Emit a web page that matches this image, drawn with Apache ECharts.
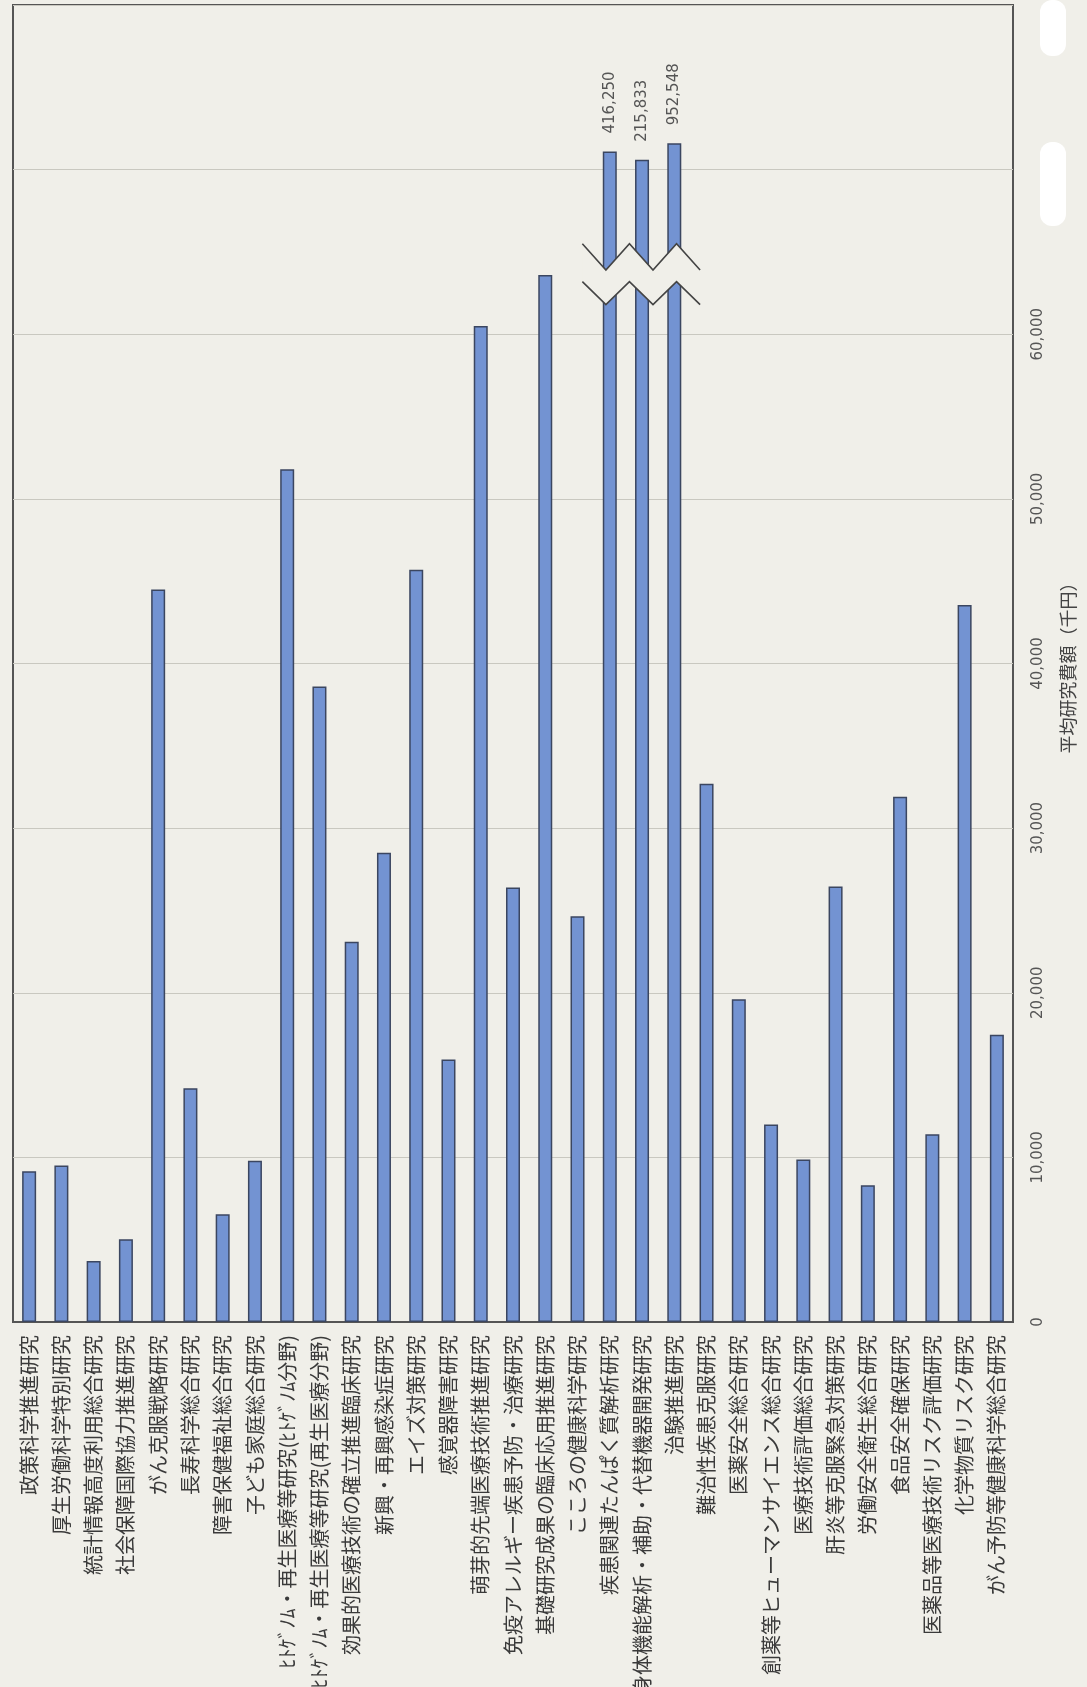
<!DOCTYPE html>
<html>
<head>
<meta charset="utf-8">
<script src="https://cdn.jsdelivr.net/npm/echarts@6/dist/echarts.min.js"></script>
<style>
  html, body { margin: 0; padding: 0; background: #f0efe9; }
  #chart { width: 1087px; height: 1687px; }
</style>
</head>
<body>
<div id="chart"></div>
<script>
// 研究事業名
var projects = [
  '政策科学推進研究', '厚生労働科学特別研究', '統計情報高度利用総合研究', '社会保障国際協力推進研究',
  'がん克服戦略研究', '長寿科学総合研究', '障害保健福祉総合研究', '子ども家庭総合研究',
  'ﾋﾄｹﾞﾉﾑ・再生医療等研究(ﾋﾄｹﾞﾉﾑ分野)', 'ﾋﾄｹﾞﾉﾑ・再生医療等研究(再生医療分野)',
  '効果的医療技術の確立推進臨床研究', '新興・再興感染症研究', 'エイズ対策研究', '感覚器障害研究',
  '萌芽的先端医療技術推進研究', '免疫アレルギー疾患予防・治療研究', '基礎研究成果の臨床応用推進研究',
  'こころの健康科学研究', '疾患関連たんぱく質解析研究', '身体機能解析・補助・代替機器開発研究',
  '治験推進研究', '難治性疾患克服研究', '医薬安全総合研究', '創薬等ヒューマンサイエンス総合研究',
  '医療技術評価総合研究', '肝炎等克服緊急対策研究', '労働安全衛生総合研究', '食品安全確保研究',
  '医薬品等医療技術リスク評価研究', '化学物質リスク研究', 'がん予防等健康科学総合研究'
];

// 平均研究費額(千円)
var avgCost = [
  9150, 9500, 3700, 5030,
  44500, 14200, 6550, 9800,
  51800, 38600,
  23100, 28500, 45700, 15950,
  60500, 26400, 63600,
  24650, 416250, 215833,
  952548, 32700, 19600, 12000,
  9870, 26450, 8300, 31900,
  11400, 43550, 17450
];

// 軸を超える3本の棒が図上で描かれている高さ(千円)
var brokenTop = [71100, 70600, 71600];

var valueTicks = [0, 10000, 20000, 30000, 40000, 50000, 60000];
var AXIS_MAX = 80000;

var bg = '#f0efe9';
var fmt = function (v) { return v.toLocaleString('en-US'); };

var brokenIdx = [];
var k = 0;
var barData = avgCost.map(function (v, i) {
  if (v > AXIS_MAX) {
    brokenIdx.push(i);
    return {
      value: brokenTop[k++],
      label: { show: true, formatter: fmt(v) }
    };
  }
  return v;
});

var chart = echarts.init(document.getElementById('chart'));

var option = {
  backgroundColor: bg,
  animation: false,
  grid: {
    left: 13, right: 74, top: 5, bottom: 365,
    outerBoundsMode: 'none',
    show: true, borderColor: '#555', borderWidth: 2, backgroundColor: bg
  },
  xAxis: {
    type: 'category',
    data: projects,
    axisLine: { lineStyle: { color: '#555', width: 2 } },
    axisTick: { show: false },
    axisLabel: {
      interval: 0, rotate: 90, margin: 13,
      fontSize: 20, color: '#3a3a3a',
      fontFamily: 'Noto Sans CJK JP'
    }
  },
  yAxis: {
    type: 'value',
    position: 'right',
    min: 0, max: AXIS_MAX, interval: 10000,
    name: '平均研究費額（千円）',
    nameLocation: 'middle',
    nameRotate: 90,
    nameGap: 46,
    nameTextStyle: { fontSize: 18, color: '#444', fontFamily: 'Noto Sans CJK JP' },
    axisLine: { show: false },
    axisTick: { show: false },
    splitLine: { lineStyle: { color: '#c9c8c0', width: 1.2 } },
    axisLabel: {
      rotate: 90, margin: 18,
      fontSize: 15, color: '#555', fontFamily: 'DejaVu Sans',
      formatter: function (v) { return valueTicks.indexOf(v) >= 0 ? fmt(v) : ''; }
    }
  },
  series: [
    {
      type: 'bar',
      data: barData,
      barWidth: 14,
      itemStyle: { color: '#7393d2', borderColor: '#3b4660', borderWidth: 1.5 },
      label: {
        show: false, position: 'top', rotate: 90, distance: 18,
        align: 'left', verticalAlign: 'middle',
        fontSize: 15, color: '#555', fontFamily: 'DejaVu Sans'
      },
      z: 2
    },
    {
      // 波線(省略記号)
      type: 'custom',
      data: [[brokenIdx[0], brokenIdx[brokenIdx.length - 1]]],
      z: 5,
      silent: true,
      renderItem: function (params, api) {
        var band = api.size([1, 0])[0];
        var xa = api.coord([api.value(0), 0])[0] - 0.85 * band;
        var xb = api.coord([api.value(1), 0])[0] + 0.8 * band;
        var yy = function (v) { return api.coord([0, v])[1]; };
        var upHi = yy(65500), upLo = yy(63900), dnHi = yy(63200), dnLo = yy(61800);
        var n = 6, step = (xb - xa) / (n - 1);
        var upper = [], lower = [];
        for (var i = 0; i < n; i++) {
          var x = xa + step * i;
          upper.push([x, i % 2 === 0 ? upHi : upLo]);
          lower.push([x, i % 2 === 0 ? dnHi : dnLo]);
        }
        var poly = upper.concat(lower.slice().reverse());
        return {
          type: 'group',
          children: [
            { type: 'polygon', shape: { points: poly }, style: { fill: bg } },
            { type: 'polyline', shape: { points: upper }, style: { stroke: '#444', lineWidth: 1.6, fill: null } },
            { type: 'polyline', shape: { points: lower }, style: { stroke: '#444', lineWidth: 1.6, fill: null } }
          ]
        };
      }
    }
  ],
  graphic: [
    // 原図の修正液のあと
    { type: 'rect', left: 1040, top: 0, shape: { width: 26, height: 56, r: 12 }, style: { fill: '#ffffff' } },
    { type: 'rect', left: 1040, top: 142, shape: { width: 26, height: 84, r: 12 }, style: { fill: '#ffffff' } }
  ]
};

chart.setOption(option);
</script>
</body>
</html>
